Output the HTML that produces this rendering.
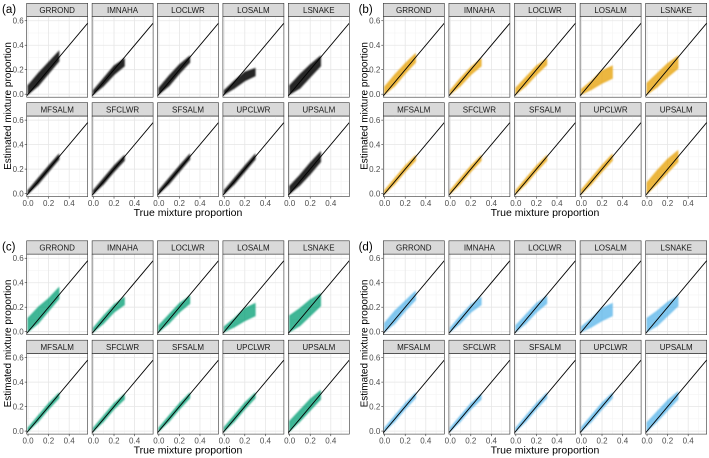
<!DOCTYPE html>
<html><head><meta charset="utf-8"><style>
html,body{margin:0;padding:0;background:#fff;}
svg{display:block;font-family:"Liberation Sans",sans-serif;}
</style></head><body>
<svg id="chart" width="709" height="458" viewBox="0 0 709 458" xmlns="http://www.w3.org/2000/svg">
<defs><filter id="blur" x="-20%" y="-20%" width="140%" height="140%"><feGaussianBlur stdDeviation="0.7"/></filter></defs>
</svg>
<script>
// data
const panelLabels = ["(a)","(b)","(c)","(d)"];
const panelColors = ["#111111","#e69f00","#009e73","#56b4e9"];
const facetNames = ["GRROND","IMNAHA","LOCLWR","LOSALM","LSNAKE","MFSALM","SFCLWR","SFSALM","UPCLWR","UPSALM"];
const bandX = [0, 0.1, 0.2, 0.3];
const xTicks = [0, 0.2, 0.4];
const xTickLabels = ["0.0","0.2","0.4"];
const yTicks = [0, 0.2, 0.4, 0.6];
const yTickLabels = ["0.0","0.2","0.4","0.6"];
// upper / lower edges of point cloud at bandX, per panel per facet
const hiA = [[0.07,0.17,0.26,0.35],[0.03,0.13,0.23,0.29],[0.05,0.15,0.24,0.31],[0.03,0.11,0.18,0.21],[0.07,0.16,0.24,0.31],[0.025,0.125,0.225,0.32],[0.025,0.125,0.225,0.31],[0.025,0.125,0.225,0.32],[0.025,0.125,0.225,0.32],[0.06,0.15,0.25,0.34]];
const loA = [[0,0.07,0.17,0.27],[0,0.07,0.16,0.23],[0,0.07,0.17,0.26],[0,0.05,0.11,0.15],[0,0.05,0.14,0.23],[0,0.08,0.18,0.28],[0,0.08,0.18,0.27],[0,0.08,0.18,0.28],[0,0.08,0.18,0.28],[0,0.07,0.16,0.26]];
const hiB = [[0.06,0.16,0.25,0.33],[0.03,0.13,0.22,0.29],[0.05,0.14,0.23,0.29],[0.04,0.11,0.19,0.23],[0.09,0.17,0.25,0.31],[0.025,0.125,0.225,0.31],[0.025,0.125,0.225,0.31],[0.025,0.125,0.225,0.31],[0.03,0.13,0.23,0.32],[0.09,0.19,0.28,0.35]];
const loB = [[0,0.07,0.17,0.26],[0,0.07,0.16,0.23],[0,0.07,0.16,0.24],[0,0.04,0.09,0.13],[0,0.06,0.14,0.21],[0,0.08,0.18,0.27],[0,0.08,0.18,0.27],[0,0.08,0.18,0.27],[0,0.08,0.18,0.27],[0,0.08,0.17,0.26]];
const hiC = [[0.11,0.20,0.27,0.36],[0.03,0.13,0.22,0.28],[0.05,0.14,0.23,0.29],[0.04,0.11,0.19,0.23],[0.13,0.19,0.26,0.31],[0.025,0.125,0.225,0.31],[0.025,0.125,0.225,0.30],[0.025,0.125,0.225,0.31],[0.03,0.13,0.23,0.31],[0.08,0.17,0.26,0.33]];
const loC = [[0,0.07,0.17,0.27],[0,0.07,0.16,0.22],[0,0.07,0.16,0.23],[0,0.04,0.09,0.13],[0,0.05,0.13,0.21],[0,0.08,0.18,0.27],[0,0.08,0.18,0.26],[0,0.08,0.18,0.27],[0,0.08,0.18,0.27],[0,0.08,0.17,0.26]];
const hiD = [[0.07,0.17,0.25,0.33],[0.03,0.13,0.22,0.28],[0.05,0.14,0.23,0.29],[0.04,0.11,0.19,0.23],[0.11,0.17,0.24,0.29],[0.025,0.125,0.225,0.31],[0.025,0.125,0.225,0.30],[0.025,0.125,0.225,0.31],[0.03,0.13,0.23,0.31],[0.07,0.16,0.25,0.32]];
const loD = [[0,0.07,0.17,0.26],[0,0.07,0.16,0.22],[0,0.07,0.16,0.23],[0,0.04,0.09,0.13],[0,0.05,0.13,0.21],[0,0.08,0.18,0.27],[0,0.08,0.18,0.26],[0,0.08,0.18,0.27],[0,0.08,0.18,0.27],[0,0.08,0.17,0.26]];
const hiAll = [hiA, hiB, hiC, hiD];
const loAll = [loA, loB, loC, loD];

const NS = "http://www.w3.org/2000/svg";
const svg = document.getElementById("chart");
function mk(tag, attrs, parent) {
  const e = document.createElementNS(NS, tag);
  for (const k in attrs) e.setAttribute(k, attrs[k]);
  (parent || svg).appendChild(e);
  return e;
}
const X0 = -0.013, X1 = 0.58, Y0 = -0.0246, Y1 = 0.633;
const FW = 61, PH = 80.5, SH = 13.4;

for (let p = 0; p < 4; p++) {
  const ox = (p % 2) * 356.6, oy = (p >> 1) * 237.5;
  const pitch = p % 2 ? 65.6 : 65.4;
  const g = mk("g", {});
  
  
  const lab = mk("text", {x: ox + 2, y: oy + 13, "font-size": 11.5, fill: "#000"}, g);
  lab.textContent = panelLabels[p];
  
  
  const yt = mk("text", {x: 0, y: 0, "font-size": 10, fill: "#000", "text-anchor": "middle", transform: `translate(${ox + 11},${oy + 106}) rotate(-90)`}, g);
  yt.textContent = "Estimated mixture proportion";
  
  
  const xt = mk("text", {x: ox + 26.7 + (4 * pitch + FW) / 2, y: oy + 216, "font-size": 10.5, fill: "#000", "text-anchor": "middle"}, g);
  xt.textContent = "True mixture proportion";
  
  

  for (let f = 0; f < 10; f++) {
    const c = f % 5, r = Math.floor(f / 5);
    const L = ox + 26.7 + c * pitch;
    const ST = oy + 3.3 + r * 99.4;
    const T = ST + SH;
    const sx = v => L + (v - X0) / (X1 - X0) * FW;
    const sy = v => T + PH - (v - Y0) / (Y1 - Y0) * PH;
    const fg = mk("g", {}, g);
    
    
    const st = mk("rect", {x: L, y: ST, width: FW, height: SH, fill: "#d9d9d9", stroke: "#333", "stroke-width": 0.6}, fg);
    
    
    const stt = mk("text", {x: L + FW / 2, y: ST + 9.8, "font-size": 8, fill: "#1a1a1a", "text-anchor": "middle"}, fg);
    stt.textContent = facetNames[f];
    
    
    const clipId = "clip" + p + "_" + f;
    const cp = mk("clipPath", {id: clipId}, fg);
    mk("rect", {x: L, y: T, width: FW, height: PH}, cp);
    [0.1, 0.3, 0.5].forEach(v => mk("line", {x1: sx(v), x2: sx(v), y1: T, y2: T + PH, stroke: "#f2f2f2", "stroke-width": 0.5}, fg));
    [0.1, 0.3, 0.5].forEach(v => mk("line", {x1: L, x2: L + FW, y1: sy(v), y2: sy(v), stroke: "#f2f2f2", "stroke-width": 0.5}, fg));
    xTicks.forEach(v => mk("line", {x1: sx(v), x2: sx(v), y1: T, y2: T + PH, stroke: "#e6e6e6", "stroke-width": 0.8}, fg));
    yTicks.forEach(v => mk("line", {x1: L, x2: L + FW, y1: sy(v), y2: sy(v), stroke: "#e6e6e6", "stroke-width": 0.8}, fg));
    const hi = hiAll[p][f], lo = loAll[p][f];
    let pts = [];
    bandX.forEach((v, i) => pts.push(sx(v) + "," + sy(hi[i])));
    for (let i = bandX.length - 1; i >= 0; i--) pts.push(sx(bandX[i]) + "," + sy(lo[i]));
    const op = p === 0 ? 0.9 : 0.75;
    const cl = mk("polygon", {points: pts.join(" "), fill: panelColors[p], "fill-opacity": op, stroke: panelColors[p], "stroke-opacity": op * 0.6, "stroke-width": 1.5, "stroke-linejoin": "round", filter: "url(#blur)", "clip-path": `url(#${clipId})`}, fg);
    
    
    const e = Math.min(X1, Y1);
    const ln = mk("line", {x1: sx(Math.max(X0, Y0)), y1: sy(Math.max(X0, Y0)), x2: sx(e), y2: sy(e), stroke: "#000", "stroke-width": 0.9, "clip-path": `url(#${clipId})`}, fg);
    
    
    mk("rect", {x: L, y: T, width: FW, height: PH, fill: "none", stroke: "#333", "stroke-width": 0.6}, fg);
    if (c === 0) {
      yTicks.forEach((v, i) => {
        mk("line", {x1: L - 2, x2: L, y1: sy(v), y2: sy(v), stroke: "#333", "stroke-width": 0.6}, fg);
        const t = mk("text", {x: L - 3, y: sy(v) + 2.8, "font-size": 8, fill: "#4d4d4d", "text-anchor": "end"}, fg);
        t.textContent = yTickLabels[i];
        
        
      });
    }
    if (r === 1) {
      xTicks.forEach((v, i) => {
        mk("line", {x1: sx(v), x2: sx(v), y1: T + PH, y2: T + PH + 2, stroke: "#333", "stroke-width": 0.6}, fg);
        const t = mk("text", {x: sx(v), y: T + PH + 9.5, "font-size": 8, fill: "#4d4d4d", "text-anchor": "middle"}, fg);
        t.textContent = xTickLabels[i];
        
        
      });
    }
  }
}
</script>
</body></html>
